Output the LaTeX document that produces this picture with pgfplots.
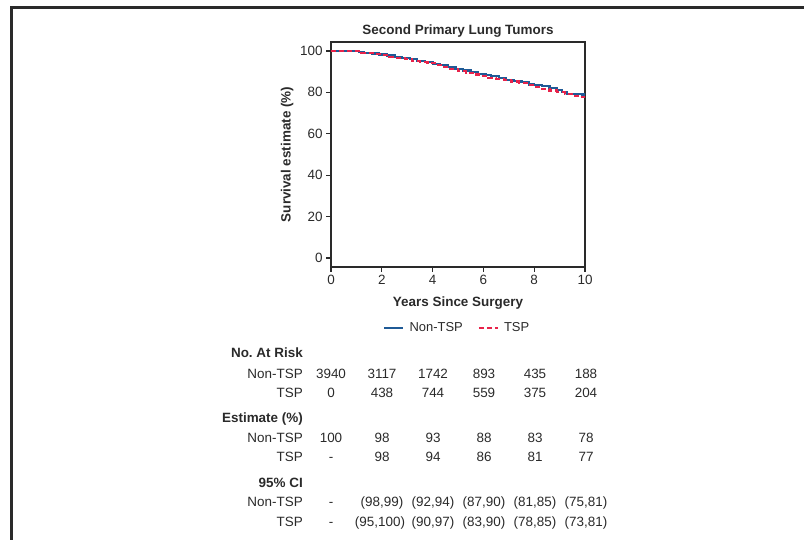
\documentclass[border=0pt]{standalone}
\usepackage{fontspec}
\setmainfont{Liberation Sans}
\usepackage{pgfplots}
\pgfplotsset{compat=1.18}
\definecolor{nontsp}{HTML}{1F5A96}
\definecolor{tsp}{HTML}{E8234A}
\definecolor{ink}{HTML}{2A2A2A}
\newcommand{\tf}{\fontsize{13.5}{16}\selectfont}

% Kaplan-Meier estimates (years, %)
\pgfplotstableread{
t s
0 100
1.0 100
1.1 99.4
1.3 99.0
1.6 98.7
1.9 98.3
2.2 97.8
2.5 97.2
2.8 96.5
3.1 95.9
3.4 95.3
3.7 94.6
4.0 93.8
4.3 93.0
4.6 92.2
4.9 91.3
5.2 90.5
5.5 89.7
5.8 89.0
6.1 88.5
6.3 88.0
6.6 87.0
6.9 86.0
7.2 85.4
7.5 84.9
7.8 83.8
8.0 83.4
8.3 83.0
8.6 82.2
8.9 81.2
9.1 80.2
9.3 79.3
9.9 79.0
10 78.6
}\nontsp

\pgfplotstableread{
t s
0 100
1.0 100
1.2 99.0
1.4 98.8
1.7 98.5
2.0 98.0
2.3 97.2
2.6 96.5
2.9 95.9
3.2 95.2
3.5 94.6
3.8 94.0
4.1 93.2
4.4 92.3
4.7 91.3
5.0 90.3
5.3 89.4
5.6 88.6
5.9 87.8
6.2 87.0
6.5 86.4
6.8 85.8
7.1 85.2
7.4 84.6
7.7 83.6
8.0 82.5
8.3 81.7
8.6 80.9
8.9 80.0
9.2 79.1
9.5 78.4
9.8 77.6
10 77.0
}\tspdata

\begin{document}
\begin{tikzpicture}[x=1bp,y=1bp]
\path[use as bounding box] (0,0) rectangle (804,540);
% frame of the figure panel
\draw[ink, line width=3bp] (11,0) -- (11,532.5) -- (804,532.5);

\begin{axis}[
    at={(331bp,273bp)}, anchor=south west,
    scale only axis, width=254bp, height=225bp,
    xmin=0, xmax=10, ymin=-4.3, ymax=104.3,
    xtick={0,2,...,10}, ytick={0,20,...,100},
    tick align=outside, xtick pos=left, ytick pos=left,
    major tick length=5bp,
    axis line style={line width=1.5bp, ink},
    every tick/.style={line width=1.3bp, ink},
    tick label style={font=\tf, text=ink},
    /pgf/number format/assume math mode=true,
    title={Second Primary Lung Tumors},
    title style={font=\bfseries\tf, text=ink, at={(axis description cs:0.5,1.058)}, anchor=center, yshift=-8bp},
    xlabel={Years Since Surgery},
    ylabel={Survival estimate (\%)},
    label style={font=\bfseries\tf, text=ink},
    xlabel style={at={(axis description cs:0.5,-0.16)}, anchor=center},
    ylabel style={at={(axis description cs:-0.173,0.5)}, anchor=center},
    legend columns=2,
    legend image code/.code={\draw[#1] (0bp,0bp) -- (19bp,0bp);},
    legend style={draw=none, fill=none, font=\fontsize{13}{15}\selectfont, text=ink,
        at={(axis description cs:0.503,-0.27)}, anchor=center,
        nodes={inner xsep=5bp},
        /tikz/every even column/.append style={column sep=10bp}},
]
\addplot[const plot, nontsp, line width=2.2bp] table[x=t, y=s] {\nontsp};
\addlegendentry{Non-TSP}
\addplot[const plot, tsp, line width=2.2bp, dash pattern=on 5bp off 3bp] table[x=t, y=s] {\tspdata};
\addlegendentry{TSP}
\end{axis}

% risk table below the plot
\begin{scope}[every node/.style={font=\tf, text=ink, inner sep=0pt}]
\node[anchor=base east, font=\bfseries\tf] at (303,182) {No.\ At Risk};
\node[anchor=base east] at (303,161) {Non-TSP};
\node[anchor=base east] at (303,142) {TSP};
\node[anchor=base east, font=\bfseries\tf] at (303,117) {Estimate (\%)};
\node[anchor=base east] at (303,97) {Non-TSP};
\node[anchor=base east] at (303,78) {TSP};
\node[anchor=base east, font=\bfseries\tf] at (303,52) {95\% CI};
\node[anchor=base east] at (303,33) {Non-TSP};
\node[anchor=base east] at (303,13) {TSP};

\node[anchor=base] at (331,161) {3940};
\node[anchor=base] at (382,161) {3117};
\node[anchor=base] at (433,161) {1742};
\node[anchor=base] at (484,161) {893};
\node[anchor=base] at (535,161) {435};
\node[anchor=base] at (586,161) {188};

\node[anchor=base] at (331,142) {0};
\node[anchor=base] at (382,142) {438};
\node[anchor=base] at (433,142) {744};
\node[anchor=base] at (484,142) {559};
\node[anchor=base] at (535,142) {375};
\node[anchor=base] at (586,142) {204};

\node[anchor=base] at (331,97) {100};
\node[anchor=base] at (382,97) {98};
\node[anchor=base] at (433,97) {93};
\node[anchor=base] at (484,97) {88};
\node[anchor=base] at (535,97) {83};
\node[anchor=base] at (586,97) {78};

\node[anchor=base] at (331,78) {-};
\node[anchor=base] at (382,78) {98};
\node[anchor=base] at (433,78) {94};
\node[anchor=base] at (484,78) {86};
\node[anchor=base] at (535,78) {81};
\node[anchor=base] at (586,78) {77};

\node[anchor=base] at (331,33) {-};
\node[anchor=base] at (382,33) {(98,99)};
\node[anchor=base] at (433,33) {(92,94)};
\node[anchor=base] at (484,33) {(87,90)};
\node[anchor=base] at (535,33) {(81,85)};
\node[anchor=base] at (586,33) {(75,81)};

\node[anchor=base] at (331,13) {-};
\node[anchor=base] at (380,13) {(95,100)};
\node[anchor=base] at (433,13) {(90,97)};
\node[anchor=base] at (484,13) {(83,90)};
\node[anchor=base] at (535,13) {(78,85)};
\node[anchor=base] at (586,13) {(73,81)};
\end{scope}
\end{tikzpicture}
\end{document}
